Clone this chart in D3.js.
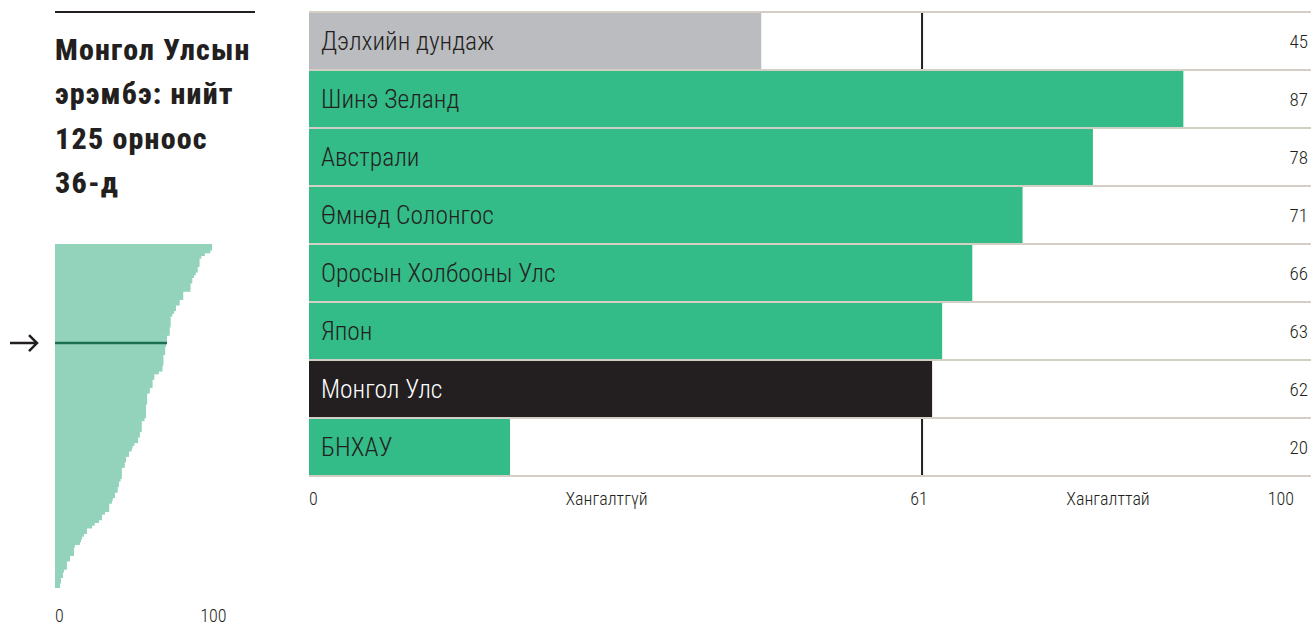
<!DOCTYPE html>
<html>
<head>
<meta charset="utf-8">
<script src="https://cdn.jsdelivr.net/npm/d3@7"></script>
<style>
  body { margin: 0; background: #fff; }
  svg text { font-family: "Roboto Condensed", "Liberation Sans Narrow", "DejaVu Sans Condensed", Roboto, sans-serif; font-stretch: condensed; fill: #231f20; font-weight: 300; }
  .title { font-weight: 800; font-size: 30px; letter-spacing: 1.2px; }
  .barLabel { font-size: 25.5px; }
  .valLabel { font-size: 19px; }
  .axisLabel { font-size: 18px; }
</style>
</head>
<body>
<div id="graph"></div>
<script>
// main chart data
var countries = ['Дэлхийн дундаж', 'Шинэ Зеланд', 'Австрали', 'Өмнөд Солонгос',
                 'Оросын Холбооны Улс', 'Япон', 'Монгол Улс', 'БНХАУ'];
var scores    = [45, 87, 78, 71, 66, 63, 62, 20];
var kinds     = ['world', 'country', 'country', 'country', 'country', 'country', 'mongolia', 'country'];
var threshold = 61;
var zoneLabels = ['Хангалтгүй', 'Хангалттай'];

// all 125 countries, ranked
var allScores = [87, 87, 86, 83, 81, 80, 80, 80, 79, 79,
                 78, 77, 76, 76, 75, 75, 75, 71, 71, 71,
                 69, 69, 67, 67, 66, 65, 64, 64, 64, 64,
                 63.5, 63.5, 63.5, 62, 62, 62, 61.5, 61, 61, 61,
                 60, 60, 60, 60, 59.5, 59.5, 57.5, 55, 55, 54,
                 54, 54, 52.5, 52.5, 51, 51, 51, 51, 50.4, 50.4,
                 50.4, 50.4, 50.4, 49.5, 48, 48, 48, 48, 47, 47,
                 46, 46, 44, 43, 42.5, 41, 41, 39.3, 39.3, 38.6,
                 38.6, 37, 37, 37, 37, 36.3, 35.4, 35.4, 34.7, 34.7,
                 33.2, 33.2, 32, 31.5, 30, 30, 30, 27.7, 26, 26,
                 24.4, 22, 20.5, 17.7, 17.7, 16, 15, 14.4, 13.8, 11,
                 10.5, 10.5, 10.5, 8.3, 8.3, 6.6, 6.6, 6.6, 5, 4.4,
                 4.4, 3.3, 3.3, 2.8, 2.8];
var mongolRank = 36;
var titleLines = ['Монгол Улсын', 'эрэмбэ: нийт', '125 орноос', '36-д'];

var W = 1311, H = 625;
var colours = { world: '#bbbcc0', country: '#33bb88', mongolia: '#231f20' };

var svg = d3.select('div#graph').append('svg')
            .attr('width', W).attr('height', H);

//
// Left panel
//
svg.append('line')
   .attr('x1', 55).attr('x2', 255).attr('y1', 12).attr('y2', 12)
   .attr('stroke', '#231f20').attr('stroke-width', 2);

svg.selectAll('.title').data(titleLines).enter()
   .append('text')
   .attr('class', 'title')
   .attr('x', 55)
   .attr('y', (d, i) => 60 + i * 44.3)
   .text(d => d);

var xDist = d3.scaleLinear().domain([0, 100]).range([55, 235.6]);
var yDist = d3.scaleBand().domain(d3.range(allScores.length)).range([244, 588]);

svg.append('g').selectAll('rect').data(allScores).enter()
   .append('rect')
   .attr('x', xDist(0))
   .attr('y', (d, i) => yDist(i))
   .attr('width', d => xDist(d) - xDist(0))
   .attr('height', (d, i) => i === allScores.length - 1 ? yDist.bandwidth() : yDist.bandwidth() + 1)
   .attr('fill', '#93d3bb');

var mongolY = yDist(mongolRank - 1) + yDist.bandwidth();
svg.append('line')
   .attr('x1', xDist(0)).attr('x2', xDist(allScores[mongolRank - 1]))
   .attr('y1', mongolY).attr('y2', mongolY)
   .attr('stroke', '#1d6f54').attr('stroke-width', 2.5);

// arrow pointing to Mongolia
svg.append('path')
   .attr('d', 'M10,' + mongolY + 'H37M29,' + (mongolY - 8) + 'L37,' + mongolY + 'L29,' + (mongolY + 8))
   .attr('fill', 'none')
   .attr('stroke', '#231f20').attr('stroke-width', 2.5);

svg.append('text').attr('class', 'axisLabel')
   .attr('x', xDist(0)).attr('y', 622).text('0');
svg.append('text').attr('class', 'axisLabel')
   .style('text-anchor', 'end')
   .attr('x', xDist(100) - 9).attr('y', 622).text('100');

//
// Main bar chart
//
var xScale = d3.scaleLinear().domain([0, 100]).range([309, 1314]);
var yScale = d3.scaleBand().domain(countries).range([12, 476]);
var bw = yScale.bandwidth();

// threshold line behind the bars
svg.append('line')
   .attr('x1', xScale(threshold)).attr('x2', xScale(threshold))
   .attr('y1', yScale.range()[0]).attr('y2', yScale.range()[1])
   .attr('stroke', '#231f20').attr('stroke-width', 2);

svg.append('g').selectAll('rect').data(countries).enter()
   .append('rect')
   .attr('x', xScale(0))
   .attr('y', d => yScale(d) + 1)
   .attr('width', (d, i) => xScale(scores[i]) - xScale(0))
   .attr('height', bw - 2)
   .attr('fill', (d, i) => colours[kinds[i]]);

// row separators
svg.append('g').selectAll('line').data(d3.range(countries.length + 1)).enter()
   .append('line')
   .attr('x1', xScale(0)).attr('x2', W)
   .attr('y1', i => yScale.range()[0] + i * bw)
   .attr('y2', i => yScale.range()[0] + i * bw)
   .attr('stroke', '#d3cfc4').attr('stroke-width', 2);

svg.append('g').selectAll('text').data(countries).enter()
   .append('text')
   .attr('class', 'barLabel')
   .attr('x', xScale(0) + 12)
   .attr('y', d => yScale(d) + bw / 2 + 9)
   .style('fill', (d, i) => kinds[i] === 'mongolia' ? '#fff' : '#231f20')
   .text(d => d);

svg.append('g').selectAll('text').data(countries).enter()
   .append('text')
   .attr('class', 'valLabel')
   .style('text-anchor', 'end')
   .attr('x', W - 3)
   .attr('y', d => yScale(d) + bw / 2 + 7)
   .text((d, i) => scores[i]);

// axis labels
var axisY = 505;
svg.append('text').attr('class', 'axisLabel')
   .attr('x', xScale(0)).attr('y', axisY).text('0');
svg.append('text').attr('class', 'axisLabel')
   .style('text-anchor', 'middle')
   .attr('x', xScale(threshold) - 3).attr('y', axisY).text(threshold);
svg.append('text').attr('class', 'axisLabel')
   .style('text-anchor', 'end')
   .attr('x', xScale(100) - 20).attr('y', axisY).text('100');
svg.append('text').attr('class', 'axisLabel')
   .style('text-anchor', 'middle')
   .attr('x', (xScale(0) + xScale(threshold)) / 2 - 9).attr('y', axisY).text(zoneLabels[0]);
svg.append('text').attr('class', 'axisLabel')
   .style('text-anchor', 'middle')
   .attr('x', (xScale(threshold) + xScale(100)) / 2 - 10).attr('y', axisY).text(zoneLabels[1]);
</script>
</body>
</html>
